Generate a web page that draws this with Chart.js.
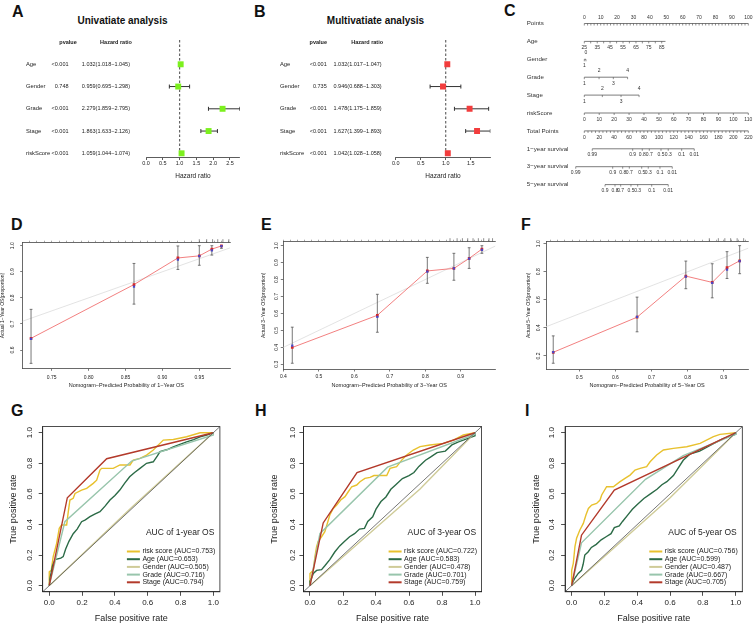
<!DOCTYPE html>
<html>
<head>
<meta charset="utf-8">
<title>Nomogram, calibration and ROC figure</title>
<script src="https://cdn.jsdelivr.net/npm/chart.js@4.4.1/dist/chart.umd.min.js"></script>
<style>
  html, body { margin: 0; padding: 0; background: #fff; overflow: hidden; }
  #fig { position: relative; width: 753px; height: 624px; overflow: hidden; font-family: "Liberation Sans", Arial, sans-serif; color: #111; }
  #fig canvas { position: absolute; }
  .tag { position: absolute; font-size: 16px; font-weight: bold; line-height: 16px; }
  .ttl { position: absolute; font-size: 10px; font-weight: bold; white-space: nowrap; transform: translate(-50%, -50%); }
</style>
</head>
<body>
<div id="fig">
  <div class="tag" style="left:12px;top:4px">A</div>
  <div class="tag" style="left:254px;top:4px">B</div>
  <div class="tag" style="left:504px;top:3px">C</div>
  <div class="tag" style="left:11px;top:217px">D</div>
  <div class="tag" style="left:261px;top:217px">E</div>
  <div class="tag" style="left:521px;top:217px">F</div>
  <div class="tag" style="left:11px;top:403px">G</div>
  <div class="tag" style="left:255px;top:403px">H</div>
  <div class="tag" style="left:525px;top:403px">I</div>
  <div class="ttl" style="left:122.5px;top:20px">Univatiate analysis</div>
  <div class="ttl" style="left:375.5px;top:20px">Multivatiate analysis</div>
</div>
<script>
// ---------- forest plots (A univariate, B multivariate) ----------
const forestVars = ['Age', 'Gender', 'Grade', 'Stage', 'riskScore'];
const uniP = ['<0.001', '0.748', '<0.001', '<0.001', '<0.001'];
const uniHR = [1.032, 0.959, 2.279, 1.863, 1.059];
const uniLow = [1.018, 0.695, 1.859, 1.633, 1.044];
const uniHigh = [1.045, 1.298, 2.795, 2.126, 1.074];
const multiP = ['<0.001', '0.735', '<0.001', '<0.001', '<0.001'];
const multiHR = [1.032, 0.946, 1.478, 1.627, 1.042];
const multiLow = [1.017, 0.688, 1.175, 1.399, 1.028];
const multiHigh = [1.047, 1.303, 1.859, 1.893, 1.058];

// ---------- nomogram (C) ----------
const nomoRows = ['Points', 'Age', 'Gender', 'Grade', 'Stage', 'riskScore', 'Total Points',
  '1\u2212year survival', '3\u2212year survival', '5\u2212year survival'];
const pointsLabels = [0, 10, 20, 30, 40, 50, 60, 70, 80, 90, 100];
const ageTicks = [25, 30, 35, 40, 45, 50, 55, 60, 65, 70, 75, 80, 85];
const agePts = [0, 3.9, 7.9, 11.8, 15.7, 19.7, 23.6, 27.5, 31.5, 35.4, 39.3, 43.3, 47.2];
const ageEndPts = 49.5;
const genderLevels = ['0', '1'];
const genderPts = [1.0, 0];
const gradeLevels = ['1', '2', '3', '4'];
const gradePts = [0, 9.0, 17.7, 26.4];
const stageLevels = ['1', '2', '3', '4'];
const stagePts = [0, 11.0, 22.4, 33.4];
const riskTicks = [0, 10, 20, 30, 40, 50, 60, 70, 80, 90, 100, 110];
const riskPts = [0, 9.1, 18.2, 27.3, 36.4, 45.5, 54.5, 63.6, 72.7, 81.8, 90.9, 100];
const totalLabels = [0, 20, 40, 60, 80, 100, 120, 140, 160, 180, 200, 220];
const survLabels = ['0.99', '0.9', '0.8', '0.7', '0.5', '0.3', '0.1', '0.01'];
const surv1Total = [10.7, 64.9, 77.8, 87.2, 102.9, 112.6, 130.6, 147.5];
const surv3Total = [-11.5, 38.1, 51.5, 60.4, 77.0, 85.8, 101.5, 118.0];
const surv5Labels = ['0.9', '0.8', '0.7', '0.5', '0.3', '0.1', '0.01'];
const surv5Total = [27.8, 41.2, 48.8, 62.6, 71.6, 90.4, 112.6];

// ---------- calibration curves (D 1-year, E 3-year, F 5-year) ----------
const calDx = [0.722, 0.8615, 0.921, 0.950, 0.967, 0.980];
const calDy = [0.645, 0.851, 0.953, 0.961, 0.987, 0.999];
const calDyBias = [0.643, 0.843, 0.947, 0.960, 0.982, 0.998];
const calDlow = [0.549, 0.776, 0.909, 0.925, 0.964, 0.990];
const calDhigh = [0.756, 0.932, 0.999, 1.0, 1.0, 1.0];
const spikesD = [0.95, 0.96, 0.968, 0.975, 0.982, 0.99];

const calEx = [0.425, 0.665, 0.806, 0.881, 0.924, 0.960];
const calEy = [0.399, 0.589, 0.851, 0.866, 0.925, 0.980];
const calEyBias = [0.410, 0.580, 0.847, 0.866, 0.924, 0.975];
const calElow = [0.306, 0.489, 0.778, 0.796, 0.866, 0.955];
const calEhigh = [0.519, 0.713, 0.931, 0.955, 0.988, 1.0];
const spikesE = [0.87, 0.89, 0.905, 0.92, 0.935, 0.95, 0.965, 0.98, 0.99];

const calFx = [0.428, 0.660, 0.795, 0.868, 0.909, 0.944];
const calFy = [0.226, 0.476, 0.769, 0.724, 0.829, 0.878];
const calFyBias = [0.228, 0.478, 0.766, 0.720, 0.815, 0.875];
const calFlow = [0.148, 0.372, 0.679, 0.614, 0.752, 0.786];
const calFhigh = [0.343, 0.619, 0.876, 0.857, 0.943, 0.986];
const spikesF = [0.86, 0.885, 0.903, 0.919, 0.937, 0.955];

// ---------- ROC curves (G 1-year, H 3-year, I 5-year) ----------
const rocNames = ['risk score', 'Age', 'Gender', 'Grade', 'Stage'];
const rocColors = ['#E8C12E', '#2C6B47', '#CFCB98', '#98C5AC', '#B33A2B'];
const aucG = [0.753, 0.653, 0.505, 0.716, 0.794];
const aucH = [0.722, 0.583, 0.478, 0.701, 0.759];
const aucI = [0.756, 0.599, 0.487, 0.667, 0.705];

const rocG_risk = [[0,0],[0,0.09],[0.012,0.1],[0.024,0.19],[0.045,0.277],[0.061,0.375],[0.075,0.397],[0.106,0.397],[0.116,0.484],[0.126,0.56],[0.146,0.571],[0.157,0.603],[0.197,0.625],[0.228,0.636],[0.268,0.669],[0.289,0.69],[0.309,0.756],[0.319,0.767],[0.39,0.767],[0.431,0.789],[0.492,0.789],[0.512,0.821],[0.553,0.832],[0.593,0.854],[0.634,0.887],[0.695,0.952],[0.756,0.956],[0.837,0.974],[0.919,1],[1,1]];
const rocG_age = [[0,0],[0.005,0.05],[0.02,0.13],[0.035,0.17],[0.07,0.18],[0.085,0.19],[0.1,0.24],[0.12,0.29],[0.146,0.34],[0.17,0.37],[0.197,0.418],[0.22,0.43],[0.248,0.451],[0.28,0.47],[0.309,0.484],[0.34,0.52],[0.37,0.56],[0.4,0.59],[0.43,0.625],[0.46,0.67],[0.49,0.712],[0.52,0.74],[0.553,0.767],[0.593,0.8],[0.634,0.81],[0.66,0.85],[0.675,0.876],[0.72,0.89],[0.756,0.908],[0.8,0.925],[0.837,0.94],[0.88,0.955],[0.919,0.973],[0.96,0.985],[1,1]];
const rocG_gender = [[0,0],[0.5,0.51],[1,1]];
const rocG_grade = [[0,0],[0.095,0.418],[0.502,0.815],[1,0.985],[1,1]];
const rocG_stage = [[0,0],[0.11,0.575],[0.35,0.83],[1,1]];

const rocH_risk = [[0,0],[0,0.08],[0.02,0.1],[0.03,0.19],[0.04,0.255],[0.05,0.29],[0.07,0.32],[0.09,0.353],[0.105,0.407],[0.12,0.462],[0.141,0.505],[0.162,0.527],[0.186,0.56],[0.212,0.582],[0.232,0.614],[0.253,0.647],[0.283,0.658],[0.303,0.68],[0.333,0.702],[0.364,0.708],[0.388,0.72],[0.465,0.72],[0.485,0.767],[0.525,0.778],[0.556,0.821],[0.586,0.854],[0.626,0.887],[0.667,0.909],[0.727,0.92],[0.808,0.93],[0.869,0.952],[0.929,0.985],[1,1]];
const rocH_age = [[0,0],[0,0.03],[0.01,0.05],[0.02,0.08],[0.04,0.1],[0.07,0.105],[0.09,0.13],[0.12,0.17],[0.15,0.22],[0.18,0.26],[0.21,0.29],[0.24,0.32],[0.27,0.34],[0.3,0.37],[0.33,0.375],[0.35,0.42],[0.38,0.45],[0.4,0.5],[0.43,0.55],[0.46,0.58],[0.49,0.63],[0.52,0.66],[0.56,0.7],[0.6,0.72],[0.63,0.74],[0.66,0.78],[0.7,0.82],[0.73,0.84],[0.77,0.87],[0.82,0.88],[0.86,0.92],[0.9,0.94],[0.95,0.96],[1,0.98],[1,1]];
const rocH_gender = [[0,0],[0.667,0.632],[1,1]];
const rocH_grade = [[0,0],[0.06,0.34],[0.47,0.775],[1,0.99],[1,1]];
const rocH_stage = [[0,0],[0.08,0.41],[0.285,0.74],[1,1]];

const rocI_risk = [[0,0],[0,0.1],[0.01,0.146],[0.02,0.255],[0.03,0.31],[0.05,0.364],[0.071,0.407],[0.087,0.462],[0.102,0.505],[0.122,0.527],[0.152,0.538],[0.173,0.56],[0.183,0.593],[0.213,0.647],[0.254,0.647],[0.295,0.68],[0.325,0.702],[0.356,0.723],[0.386,0.756],[0.417,0.767],[0.457,0.778],[0.478,0.81],[0.518,0.854],[0.559,0.887],[0.62,0.898],[0.701,0.908],[0.783,0.93],[0.864,0.974],[0.904,0.989],[1,1]];
const rocI_age = [[0,0],[0.01,0.03],[0.02,0.05],[0.04,0.08],[0.06,0.1],[0.07,0.14],[0.08,0.2],[0.1,0.22],[0.12,0.25],[0.15,0.27],[0.18,0.3],[0.21,0.32],[0.24,0.34],[0.26,0.38],[0.29,0.39],[0.31,0.42],[0.34,0.46],[0.37,0.5],[0.4,0.53],[0.44,0.57],[0.48,0.6],[0.52,0.63],[0.55,0.66],[0.58,0.68],[0.62,0.72],[0.65,0.77],[0.68,0.82],[0.72,0.86],[0.78,0.88],[0.85,0.92],[0.92,0.96],[1,0.99],[1,1]];
const rocI_gender = [[0,0],[0.6,0.575],[1,1]];
const rocI_grade = [[0,0],[0.06,0.28],[0.45,0.695],[0.68,0.85],[1,0.99],[1,1]];
const rocI_stage = [[0,0],[0.06,0.33],[0.26,0.625],[1,1]];

// ---------- helpers ----------
const FONT = '"Liberation Sans", Arial, sans-serif';
Chart.defaults.font.family = FONT;
Chart.defaults.color = '#222';
const AXIS = '#333';
const fig = document.getElementById('fig');

function makeCanvas(box) {
  const c = document.createElement('canvas');
  c.width = box[2];
  c.height = box[3];
  c.style.left = box[0] + 'px';
  c.style.top = box[1] + 'px';
  c.style.width = box[2] + 'px';
  c.style.height = box[3] + 'px';
  fig.appendChild(c);
  return c;
}

// padding so that the chart area lands on [left, top, right, bottom] of the page
function layoutPad(box, area, yW, xH, topH) {
  return {
    left: area[0] - box[0] - yW,
    top: area[1] - box[1] - topH,
    right: box[0] + box[2] - area[2],
    bottom: box[1] + box[3] - area[3] - xH
  };
}

const pts = pairs => pairs.map(p => ({x: p[0], y: p[1]}));
const fx3 = v => v.toFixed(3);

function forestText(cfg) {
  return {
    id: 'forestText',
    afterDraw(chart) {
      const {ctx} = chart;
      const yS = chart.scales.y;
      ctx.save();
      ctx.fillStyle = '#222';
      ctx.textBaseline = 'middle';
      ctx.textAlign = 'center';
      ctx.font = 'bold 5.5px ' + FONT;
      ctx.fillText('pvalue', cfg.pHead, cfg.headY);
      ctx.fillText('Hazard ratio', cfg.hrHead, cfg.headY);
      cfg.vars.forEach((v, i) => {
        const y = yS.getPixelForValue(i);
        ctx.font = '5.8px ' + FONT;
        ctx.textAlign = 'left';
        ctx.fillText(v, cfg.nameX, y);
        ctx.font = '5.5px ' + FONT;
        ctx.textAlign = 'right';
        ctx.fillText(cfg.p[i], cfg.pX, y);
        ctx.fillText(fx3(cfg.hr[i]) + '(' + fx3(cfg.lo[i]) + '\u2212' + fx3(cfg.hi[i]) + ')', cfg.hrX, y);
      });
      ctx.restore();
    }
  };
}

function forestPanel(box, area, vars, pv, hr, lo, hi, color, txt) {
  const c = makeCanvas(box);
  const ciData = [], capData = [];
  vars.forEach((v, i) => {
    ciData.push({x: lo[i], y: i}, {x: hi[i], y: i}, {x: null, y: null});
    capData.push({x: lo[i], y: i}, {x: hi[i], y: i});
  });
  const yMin = -1.092, yMax = 4.166;
  const xH = 22.9;
  new Chart(c, {
    type: 'scatter',
    data: {
      datasets: [
        {data: [{x: 1, y: yMin}, {x: 1, y: yMax}], showLine: true, borderColor: '#666', borderWidth: 1.2,
          borderDash: [2.5, 2], pointRadius: 0, order: 4},
        {data: ciData, showLine: true, borderColor: '#333', borderWidth: 1, pointRadius: 0, order: 3},
        {data: capData, pointStyle: 'line', pointRotation: 90, pointRadius: 2, pointBorderColor: '#333',
          pointBorderWidth: 1, order: 3},
        {data: hr.map((h, i) => ({x: h, y: i})), pointStyle: 'rect', pointRadius: 4.2,
          pointBackgroundColor: color, pointBorderWidth: 0, order: 1}
      ]
    },
    options: {
      responsive: false, animation: false, devicePixelRatio: 1,
      layout: {padding: layoutPad(box, area, 0, xH, 0)},
      scales: {
        x: {
          type: 'linear', min: 0, max: Math.max(...hi),
          ticks: {stepSize: 0.5, includeBounds: false, autoSkip: false, maxRotation: 0, minRotation: 0,
            padding: 0.5, font: {size: 5.5}, callback: v => v.toFixed(1)},
          grid: {drawOnChartArea: false, tickLength: 3, color: AXIS, lineWidth: 0.8},
          border: {color: AXIS, width: 0.8},
          title: {display: true, text: 'Hazard ratio', font: {size: 6.5}, padding: 0},
          afterFit: s => { s.height = xH; }
        },
        y: {type: 'linear', min: yMin, max: yMax, reverse: true, display: false}
      },
      plugins: {legend: {display: false}, tooltip: {enabled: false}}
    },
    plugins: [forestText(Object.assign({vars, p: pv, hr, lo, hi}, txt))]
  });
}

forestPanel([0, 0, 250, 192], [146, 40, 239.9, 157], forestVars, uniP, uniHR, uniLow, uniHigh, '#7CF01E',
  {nameX: 26, pX: 68.5, hrX: 130, pHead: 68, hrHead: 116, headY: 42.3});
forestPanel([250, 0, 250, 192], [395.7, 40, 490.35, 157], forestVars, multiP, multiHR, multiLow, multiHigh, '#F23D3D',
  {nameX: 30, pX: 76.7, hrX: 131.7, pHead: 68.3, hrHead: 117.2, headY: 42.3});

// ---------- C: nomogram ----------
(function () {
  const box = [500, 0, 253, 200];
  const c = makeCanvas(box);
  const pointsMinor = [];
  for (let v = 0; v <= 100; v += 2) pointsMinor.push(v);
  const totalMinor = [];
  for (let v = 0; v <= 220; v += 5) totalMinor.push(v);
  const alt = (levels, p) => levels.map((t, i) => ({at: p[i], text: t, side: i % 2 === 0 ? 1 : -1}));
  const axes = [
    {row: 0, scale: 'xp', ticks: pointsMinor, labels: pointsLabels.map(v => ({at: v, text: String(v), side: -1}))},
    {row: 1, scale: 'xp', ticks: agePts, end: ageEndPts,
      labels: ageTicks.map((a, i) => ({at: agePts[i], text: String(a), side: 1})).filter((l, i) => i % 2 === 0)},
    {row: 2, scale: 'xp', ticks: genderPts,
      labels: genderLevels.map((t, i) => ({at: genderPts[i], text: t, side: i === 0 ? -1 : 1}))},
    {row: 3, scale: 'xp', ticks: gradePts, labels: alt(gradeLevels, gradePts)},
    {row: 4, scale: 'xp', ticks: stagePts, labels: alt(stageLevels, stagePts)},
    {row: 5, scale: 'xp', ticks: riskPts, labels: riskTicks.map((v, i) => ({at: riskPts[i], text: String(v), side: 1}))},
    {row: 6, scale: 'xt', ticks: totalMinor, labels: totalLabels.map(v => ({at: v, text: String(v), side: 1}))},
    {row: 7, scale: 'xt', ticks: surv1Total, labels: survLabels.map((t, i) => ({at: surv1Total[i], text: t, side: 1}))},
    {row: 8, scale: 'xt', ticks: surv3Total, labels: survLabels.map((t, i) => ({at: surv3Total[i], text: t, side: 1}))},
    {row: 9, scale: 'xt', ticks: surv5Total, labels: surv5Labels.map((t, i) => ({at: surv5Total[i], text: t, side: 1}))}
  ];
  const lines = axes.map(a => {
    const lo = Math.min(...a.ticks);
    const hi = Math.max(...a.ticks, a.end === undefined ? -Infinity : a.end);
    return {xAxisID: a.scale, yAxisID: 'y', data: [{x: lo, y: a.row}, {x: hi, y: a.row}], showLine: true,
      borderColor: '#444', borderWidth: 0.7, pointRadius: 0, clip: false};
  });
  const nomogram = {
    id: 'nomogram',
    afterDatasetsDraw(chart) {
      const {ctx} = chart;
      const yS = chart.scales.y;
      ctx.save();
      ctx.fillStyle = '#333';
      ctx.textBaseline = 'middle';
      ctx.textAlign = 'left';
      ctx.font = '6.2px ' + FONT;
      nomoRows.forEach((name, i) => ctx.fillText(name, 26.7, yS.getPixelForValue(i)));
      ctx.strokeStyle = '#444';
      ctx.lineWidth = 0.6;
      ctx.font = '5px ' + FONT;
      ctx.textAlign = 'center';
      axes.forEach(a => {
        const xS = chart.scales[a.scale];
        const y = yS.getPixelForValue(a.row);
        a.ticks.forEach(v => {
          const x = xS.getPixelForValue(v);
          ctx.beginPath();
          ctx.moveTo(x, y);
          ctx.lineTo(x, y + 2);
          ctx.stroke();
        });
        a.labels.forEach(l => ctx.fillText(l.text, xS.getPixelForValue(l.at), y + l.side * 6.3));
      });
      ctx.restore();
    }
  };
  new Chart(c, {
    type: 'scatter',
    data: {datasets: lines},
    options: {
      responsive: false, animation: false, devicePixelRatio: 1,
      layout: {padding: {left: 84.3, right: 4.7, top: 5.6, bottom: 6.45}},
      scales: {
        xp: {type: 'linear', axis: 'x', min: 0, max: 100, display: false},
        xt: {type: 'linear', axis: 'x', min: 0, max: 220, display: false},
        y: {type: 'linear', min: -1, max: 9.5, reverse: true, display: false}
      },
      plugins: {legend: {display: false}, tooltip: {enabled: false}}
    },
    plugins: [nomogram]
  });
})();

// ---------- D/E/F: calibration ----------
function spikePlugin(values) {
  return {
    id: 'spikes',
    afterDraw(chart) {
      const {ctx, chartArea} = chart;
      const xS = chart.scales.x;
      ctx.save();
      ctx.strokeStyle = '#444';
      ctx.lineWidth = 0.6;
      values.forEach(v => {
        const x = xS.getPixelForValue(v);
        ctx.beginPath();
        ctx.moveTo(x, chartArea.top);
        ctx.lineTo(x, chartArea.top - 3.5);
        ctx.stroke();
      });
      ctx.restore();
    }
  };
}

function calPanel(box, area, yW, xH, cal, o) {
  const c = makeCanvas(box);
  const errData = [], capData = [];
  cal.x.forEach((x, i) => {
    errData.push({x, y: cal.lo[i]}, {x, y: cal.hi[i]}, {x: null, y: null});
    capData.push({x, y: cal.lo[i]}, {x, y: cal.hi[i]});
  });
  const tickGrid = {drawOnChartArea: false, tickLength: 2.5, color: '#444', lineWidth: 0.7};
  new Chart(c, {
    type: 'scatter',
    data: {
      datasets: [
        {data: [{x: 0, y: 0}, {x: 1, y: 1}], showLine: true, borderColor: '#dcdcdc', borderWidth: 0.8, pointRadius: 0, order: 6},
        {data: errData, showLine: true, borderColor: '#555', borderWidth: 0.8, pointRadius: 0, order: 5},
        {data: capData, pointStyle: 'line', pointRadius: 1.4, pointBorderColor: '#555', pointBorderWidth: 0.8, order: 5},
        {data: cal.x.map((x, i) => ({x, y: cal.y[i]})), showLine: true, borderColor: '#f07272', borderWidth: 0.9,
          pointStyle: 'rect', pointRadius: 1.9, pointBackgroundColor: '#d62828', pointBorderWidth: 0, order: 2},
        {data: cal.x.map((x, i) => ({x, y: cal.yb[i]})), pointStyle: 'rect', pointRadius: 1.6,
          pointBackgroundColor: '#4848c8', pointBorderWidth: 0, order: 1}
      ]
    },
    options: {
      responsive: false, animation: false, devicePixelRatio: 1,
      layout: {padding: layoutPad(box, area, yW, xH, 2)},
      scales: {
        x: {
          type: 'linear', position: 'bottom', min: o.xMin, max: o.xMax,
          ticks: {stepSize: o.xStep, includeBounds: false, autoSkip: false, maxRotation: 0, minRotation: 0,
            padding: o.xPad, font: {size: 5}, callback: v => v.toFixed(o.xDec)},
          grid: tickGrid, border: {color: '#444', width: 0.8},
          title: {display: true, text: o.xTitle, font: {size: 5.5}, padding: 0},
          afterFit: s => { s.height = xH; }
        },
        xTop: {
          type: 'linear', position: 'top', min: o.xMin, max: o.xMax,
          ticks: {display: false, stepSize: o.topStep, includeBounds: false, autoSkip: false},
          grid: {drawOnChartArea: false, tickLength: 2, color: '#555', lineWidth: 0.5},
          border: {color: '#444', width: 0.8},
          afterFit: s => { s.height = 2; }
        },
        y: {
          type: 'linear', min: o.yMin, max: o.yMax,
          ticks: {stepSize: o.yStep, includeBounds: false, autoSkip: false, minRotation: 90, maxRotation: 90,
            crossAlign: 'center', padding: o.yPad, font: {size: 5}, callback: v => v.toFixed(1)},
          grid: tickGrid, border: {color: '#444', width: 0.8},
          title: {display: true, text: o.yTitle, font: {size: 5}, padding: 0},
          afterFit: s => { s.width = yW; }
        }
      },
      plugins: {legend: {display: false}, tooltip: {enabled: false}}
    },
    plugins: [spikePlugin(o.spikes)]
  });
}

calPanel([0, 226, 250, 170], [22.7, 242.7, 230, 368.3], 22.7, 20.5,
  {x: calDx, y: calDy, yb: calDyBias, lo: calDlow, hi: calDhigh},
  {xMin: 0.7107, xMax: 0.9916, xStep: 0.05, xDec: 2, topStep: 0.01, xPad: 3.5,
    yMin: 0.53, yMax: 1.0115, yStep: 0.1, yPad: 4.4, spikes: spikesD,
    xTitle: 'Nomogram\u2212Predicted Probability of 1\u2212Year OS', yTitle: 'Actual 1\u2212Year OS(proportion)'});
calPanel([250, 226, 250, 170], [283.3, 241.7, 496, 369], 22.3, 19.8,
  {x: calEx, y: calEy, yb: calEyBias, lo: calElow, hi: calEhigh},
  {xMin: 0.3997, xMax: 0.9975, xStep: 0.1, xDec: 1, topStep: 0.02, xPad: 2.2,
    yMin: 0.272, yMax: 1.0236, yStep: 0.1, yPad: 0.6, spikes: spikesE,
    xTitle: 'Nomogram\u2212Predicted Probability of 3\u2212Year OS', yTitle: 'Actual 3\u2212Year OS(proportion)'});
calPanel([500, 226, 253, 170], [546, 241.7, 753, 369], 20.7, 19.8,
  {x: calFx, y: calFy, yb: calFyBias, lo: calFlow, hi: calFhigh},
  {xMin: 0.408, xMax: 0.9676, xStep: 0.1, xDec: 1, topStep: 0.02, xPad: 2.8,
    yMin: 0.107, yMax: 1.014, yStep: 0.2, yPad: 1.7, spikes: spikesF,
    xTitle: 'Nomogram\u2212Predicted Probability of 5\u2212Year OS', yTitle: 'Actual 5\u2212Year OS(proportion)'});

// ---------- G/H/I: ROC ----------
function rocLegend(title) {
  return {
    id: 'rocLegend',
    afterDraw(chart) {
      const {ctx, chartArea: {left, top, right, bottom}} = chart;
      ctx.save();
      ctx.strokeStyle = '#222';
      ctx.lineWidth = 0.8;
      ctx.strokeRect(left, top, right - left, bottom - top);
      ctx.fillStyle = '#222';
      ctx.textBaseline = 'middle';
      ctx.textAlign = 'left';
      ctx.font = '8.5px ' + FONT;
      ctx.fillText(title, right - 74, bottom - 59);
      ctx.font = '7px ' + FONT;
      chart.data.datasets.filter(d => d.label).forEach((d, i) => {
        const y = bottom - 40.3 + 7.7 * i;
        ctx.strokeStyle = d.borderColor;
        ctx.lineWidth = 2;
        ctx.beginPath();
        ctx.moveTo(right - 93, y);
        ctx.lineTo(right - 80, y);
        ctx.stroke();
        ctx.fillText(d.label, right - 77.5, y);
      });
      ctx.restore();
    }
  };
}

function rocPanel(box, area, yW, yPad, series, aucs, title) {
  const c = makeCanvas(box);
  const xH = 32.6;
  const datasets = series.map((s, i) => ({
    label: rocNames[i] + ' (AUC=' + aucs[i].toFixed(3) + ')',
    data: pts(s), showLine: true, borderColor: rocColors[i], borderWidth: 1.4, pointRadius: 0,
    order: 5 - i
  }));
  datasets.push({data: [{x: -0.04, y: -0.04}, {x: 1.04, y: 1.04}], showLine: true, borderColor: '#555',
    borderWidth: 0.8, pointRadius: 0, order: 0});
  const tickGrid = {drawOnChartArea: false, tickLength: 4, color: '#222', lineWidth: 0.8};
  new Chart(c, {
    type: 'scatter',
    data: {datasets},
    options: {
      responsive: false, animation: false, devicePixelRatio: 1,
      layout: {padding: layoutPad(box, area, yW, xH, 0)},
      scales: {
        x: {
          type: 'linear', min: -0.04, max: 1.04,
          ticks: {stepSize: 0.2, includeBounds: false, autoSkip: false, maxRotation: 0, minRotation: 0,
            padding: 1.7, font: {size: 8}, callback: v => v.toFixed(1)},
          grid: tickGrid, border: {color: '#222', width: 0.8},
          title: {display: true, text: 'False positive rate', font: {size: 9}, padding: 0},
          afterFit: s => { s.height = xH; }
        },
        y: {
          type: 'linear', min: -0.04, max: 1.04,
          ticks: {stepSize: 0.2, includeBounds: false, autoSkip: false, minRotation: 90, maxRotation: 90,
            crossAlign: 'center', padding: yPad, font: {size: 8}, callback: v => v.toFixed(1)},
          grid: tickGrid, border: {color: '#222', width: 0.8},
          title: {display: true, text: 'True positive rate', font: {size: 9}, padding: 0},
          afterFit: s => { s.width = yW; }
        }
      },
      plugins: {legend: {display: false}, tooltip: {enabled: false}}
    },
    plugins: [rocLegend(title)]
  });
}

rocPanel([0, 400, 250, 230], [42.7, 426.6, 219.9, 591.8], 34.8, 3.1,
  [rocG_risk, rocG_age, rocG_gender, rocG_grade, rocG_stage], aucG, 'AUC of 1-year OS');
rocPanel([250, 400, 250, 230], [303.4, 426.6, 481.6, 591.8], 33.8, 1.5,
  [rocH_risk, rocH_age, rocH_gender, rocH_grade, rocH_stage], aucH, 'AUC of 3-year OS');
rocPanel([500, 400, 253, 230], [565.1, 426.6, 742.3, 591.8], 33.8, 3.8,
  [rocI_risk, rocI_age, rocI_gender, rocI_grade, rocI_stage], aucI, 'AUC of 5-year OS');
</script>
</body>
</html>
